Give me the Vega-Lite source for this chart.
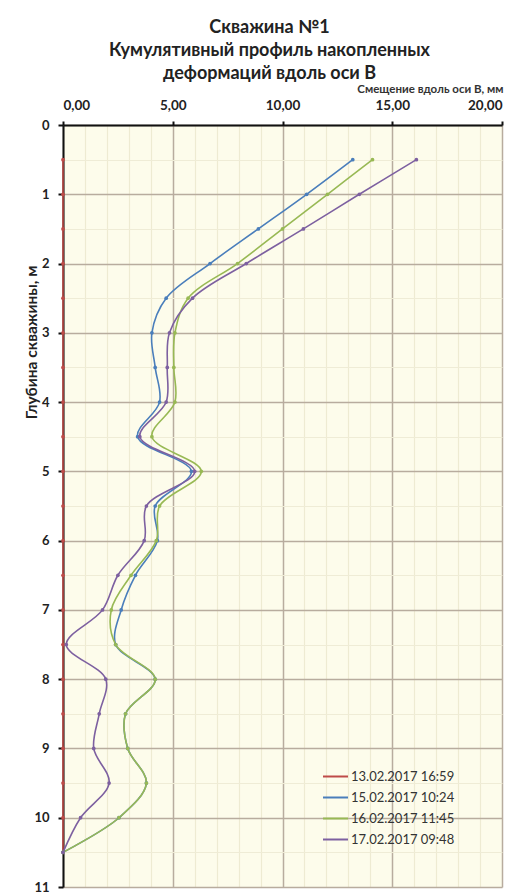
{
  "$schema": "https://vega.github.io/schema/vega-lite/v6.json",
  "width": 439,
  "height": 762,
  "autosize": "none",
  "padding": {"left": 63, "top": 125, "right": 22, "bottom": 8},
  "background": "white",
  "config": {
    "view": {"stroke": null, "fill": "#FDFCEB"},
    "font": "Lato",
    "legend": {"orient": "none", "legendX": 259, "legendY": 638}
  },
  "title": {
    "text": ["Скважина №1", "Кумулятивный профиль накопленных", "деформаций вдоль оси В"],
    "fontSize": 18,
    "fontWeight": "bold",
    "font": "Lato",
    "color": "#222222",
    "lineHeight": 23,
    "anchor": "middle",
    "dx": -13,
    "offset": 0
  },
  "data": {
    "values": [
      {"d": 0.5, "s": "13.02.2017 16:59", "v": 0}, {"d": 1, "s": "13.02.2017 16:59", "v": 0}, {"d": 1.5, "s": "13.02.2017 16:59", "v": 0}, {"d": 2, "s": "13.02.2017 16:59", "v": 0}, {"d": 2.5, "s": "13.02.2017 16:59", "v": 0}, {"d": 3, "s": "13.02.2017 16:59", "v": 0}, {"d": 3.5, "s": "13.02.2017 16:59", "v": 0}, {"d": 4, "s": "13.02.2017 16:59", "v": 0}, {"d": 4.5, "s": "13.02.2017 16:59", "v": 0}, {"d": 5, "s": "13.02.2017 16:59", "v": 0}, {"d": 5.5, "s": "13.02.2017 16:59", "v": 0}, {"d": 6, "s": "13.02.2017 16:59", "v": 0}, {"d": 6.5, "s": "13.02.2017 16:59", "v": 0}, {"d": 7, "s": "13.02.2017 16:59", "v": 0}, {"d": 7.5, "s": "13.02.2017 16:59", "v": 0}, {"d": 8, "s": "13.02.2017 16:59", "v": 0}, {"d": 8.5, "s": "13.02.2017 16:59", "v": 0}, {"d": 9, "s": "13.02.2017 16:59", "v": 0}, {"d": 9.5, "s": "13.02.2017 16:59", "v": 0}, {"d": 10, "s": "13.02.2017 16:59", "v": 0}, {"d": 10.5, "s": "13.02.2017 16:59", "v": 0},
      {"d": 0.5, "s": "15.02.2017 10:24", "v": 13.2}, {"d": 1, "s": "15.02.2017 10:24", "v": 11.1}, {"d": 1.5, "s": "15.02.2017 10:24", "v": 8.9}, {"d": 2, "s": "15.02.2017 10:24", "v": 6.7}, {"d": 2.5, "s": "15.02.2017 10:24", "v": 4.7}, {"d": 3, "s": "15.02.2017 10:24", "v": 4.05}, {"d": 3.5, "s": "15.02.2017 10:24", "v": 4.2}, {"d": 4, "s": "15.02.2017 10:24", "v": 4.4}, {"d": 4.5, "s": "15.02.2017 10:24", "v": 3.4}, {"d": 5, "s": "15.02.2017 10:24", "v": 5.85}, {"d": 5.5, "s": "15.02.2017 10:24", "v": 4.2}, {"d": 6, "s": "15.02.2017 10:24", "v": 4.3}, {"d": 6.5, "s": "15.02.2017 10:24", "v": 3.3}, {"d": 7, "s": "15.02.2017 10:24", "v": 2.65}, {"d": 7.5, "s": "15.02.2017 10:24", "v": 2.4}, {"d": 8, "s": "15.02.2017 10:24", "v": 4.2}, {"d": 8.5, "s": "15.02.2017 10:24", "v": 2.85}, {"d": 9, "s": "15.02.2017 10:24", "v": 2.95}, {"d": 9.5, "s": "15.02.2017 10:24", "v": 3.8}, {"d": 10, "s": "15.02.2017 10:24", "v": 2.55}, {"d": 10.5, "s": "15.02.2017 10:24", "v": 0},
      {"d": 0.5, "s": "16.02.2017 11:45", "v": 14.1}, {"d": 1, "s": "16.02.2017 11:45", "v": 12.05}, {"d": 1.5, "s": "16.02.2017 11:45", "v": 10.0}, {"d": 2, "s": "16.02.2017 11:45", "v": 7.95}, {"d": 2.5, "s": "16.02.2017 11:45", "v": 5.7}, {"d": 3, "s": "16.02.2017 11:45", "v": 5.1}, {"d": 3.5, "s": "16.02.2017 11:45", "v": 5.05}, {"d": 4, "s": "16.02.2017 11:45", "v": 5.1}, {"d": 4.5, "s": "16.02.2017 11:45", "v": 4.05}, {"d": 5, "s": "16.02.2017 11:45", "v": 6.3}, {"d": 5.5, "s": "16.02.2017 11:45", "v": 4.4}, {"d": 6, "s": "16.02.2017 11:45", "v": 4.25}, {"d": 6.5, "s": "16.02.2017 11:45", "v": 3.1}, {"d": 7, "s": "16.02.2017 11:45", "v": 2.2}, {"d": 7.5, "s": "16.02.2017 11:45", "v": 2.4}, {"d": 8, "s": "16.02.2017 11:45", "v": 4.2}, {"d": 8.5, "s": "16.02.2017 11:45", "v": 2.85}, {"d": 9, "s": "16.02.2017 11:45", "v": 2.95}, {"d": 9.5, "s": "16.02.2017 11:45", "v": 3.8}, {"d": 10, "s": "16.02.2017 11:45", "v": 2.55}, {"d": 10.5, "s": "16.02.2017 11:45", "v": 0},
      {"d": 0.5, "s": "17.02.2017 09:48", "v": 16.1}, {"d": 1, "s": "17.02.2017 09:48", "v": 13.5}, {"d": 1.5, "s": "17.02.2017 09:48", "v": 10.95}, {"d": 2, "s": "17.02.2017 09:48", "v": 8.35}, {"d": 2.5, "s": "17.02.2017 09:48", "v": 5.9}, {"d": 3, "s": "17.02.2017 09:48", "v": 4.85}, {"d": 3.5, "s": "17.02.2017 09:48", "v": 4.75}, {"d": 4, "s": "17.02.2017 09:48", "v": 4.7}, {"d": 4.5, "s": "17.02.2017 09:48", "v": 3.5}, {"d": 5, "s": "17.02.2017 09:48", "v": 6.0}, {"d": 5.5, "s": "17.02.2017 09:48", "v": 3.8}, {"d": 6, "s": "17.02.2017 09:48", "v": 3.7}, {"d": 6.5, "s": "17.02.2017 09:48", "v": 2.5}, {"d": 7, "s": "17.02.2017 09:48", "v": 1.8}, {"d": 7.5, "s": "17.02.2017 09:48", "v": 0.15}, {"d": 8, "s": "17.02.2017 09:48", "v": 1.95}, {"d": 8.5, "s": "17.02.2017 09:48", "v": 1.65}, {"d": 9, "s": "17.02.2017 09:48", "v": 1.4}, {"d": 9.5, "s": "17.02.2017 09:48", "v": 2.1}, {"d": 10, "s": "17.02.2017 09:48", "v": 0.8}, {"d": 10.5, "s": "17.02.2017 09:48", "v": 0}
    ]
  },
  "layer": [
    {
      "mark": {"type": "point", "opacity": 0},
      "encoding": {
        "x": {
          "field": "v", "type": "quantitative",
          "scale": {"domain": [0, 20], "nice": false, "zero": false},
          "axis": {"orient": "bottom", "values": [1,2,3,4,6,7,8,9,11,12,13,14,16,17,18,19], "grid": true, "gridColor": "#EEEBD2", "gridWidth": 1.2, "labels": false, "ticks": false, "domain": false, "title": null}
        },
        "y": {
          "field": "d", "type": "quantitative",
          "scale": {"domain": [0, 11], "nice": false, "reverse": true, "zero": false},
          "axis": {"orient": "right", "values": [0.5,1.5,2.5,3.5,4.5,5.5,6.5,7.5,8.5,9.5,10.5], "grid": true, "gridColor": "#EFECD6", "gridWidth": 1, "labels": false, "ticks": false, "domain": false, "title": null}
        }
      }
    },
    {
      "mark": {"type": "line", "interpolate": "catmull-rom", "strokeWidth": 1.6, "point": {"filled": true, "size": 14}},
      "encoding": {
        "x": {
          "field": "v", "type": "quantitative",
          "scale": {"domain": [0, 20], "nice": false, "zero": false},
          "axis": {
            "orient": "top", "values": [0, 5, 10, 15, 20],
            "labelExpr": "replace(format(datum.value, '.2f'), '.', ',')",
            "grid": true, "gridColor": "#B8AC9E", "gridWidth": 1.5,
            "domainColor": "#111111", "domainWidth": 2,
            "tickColor": "#111111", "tickWidth": 2, "tickSize": 4,
            "labelFont": "Lato", "labelFontSize": 13.5, "labelFontWeight": "bold", "labelColor": "#222222", "labelPadding": 9,
            "title": "Смещение вдоль оси В, мм", "titleFont": "Lato", "titleFontSize": 11.5, "titleFontWeight": "bold", "titleColor": "#333333",
            "titleX": 440, "titleY": -33, "titleAlign": "right", "titleBaseline": "alphabetic"
          }
        },
        "y": {
          "field": "d", "type": "quantitative",
          "scale": {"domain": [0, 11], "nice": false, "reverse": true, "zero": false},
          "axis": {
            "orient": "left", "values": [0,1,2,3,4,5,6,7,8,9,10,11],
            "grid": true, "gridColor": "#B8AC9E", "gridWidth": 1.5,
            "domainColor": "#111111", "domainWidth": 2,
            "tickColor": "#111111", "tickWidth": 2, "tickSize": 5,
            "labelFont": "Lato", "labelFontSize": 13, "labelFontWeight": "bold", "labelColor": "#222222", "labelPadding": 9,
            "title": "Глубина скважины, м", "titleFont": "Lato", "titleFontSize": 15.5, "titleFontWeight": "bold", "titleColor": "#222222",
            "titleX": -32, "titleY": 217, "titleAngle": -90, "titleAlign": "center", "titleBaseline": "middle"
          }
        },
        "color": {
          "field": "s", "type": "nominal",
          "scale": {"domain": ["13.02.2017 16:59", "15.02.2017 10:24", "16.02.2017 11:45", "17.02.2017 09:48"], "range": ["#BE4B48", "#4A7EBB", "#98B954", "#7D60A0"]},
          "legend": {"title": null, "symbolType": "stroke", "symbolStrokeWidth": 2, "symbolSize": 625, "labelFont": "Lato", "labelFontSize": 13, "labelColor": "#333333", "rowPadding": 0, "labelOffset": 2}
        },
        "order": {"field": "d", "type": "quantitative"}
      }
    }
  ],
  "resolve": {"axis": {"x": "independent", "y": "independent"}}
}
